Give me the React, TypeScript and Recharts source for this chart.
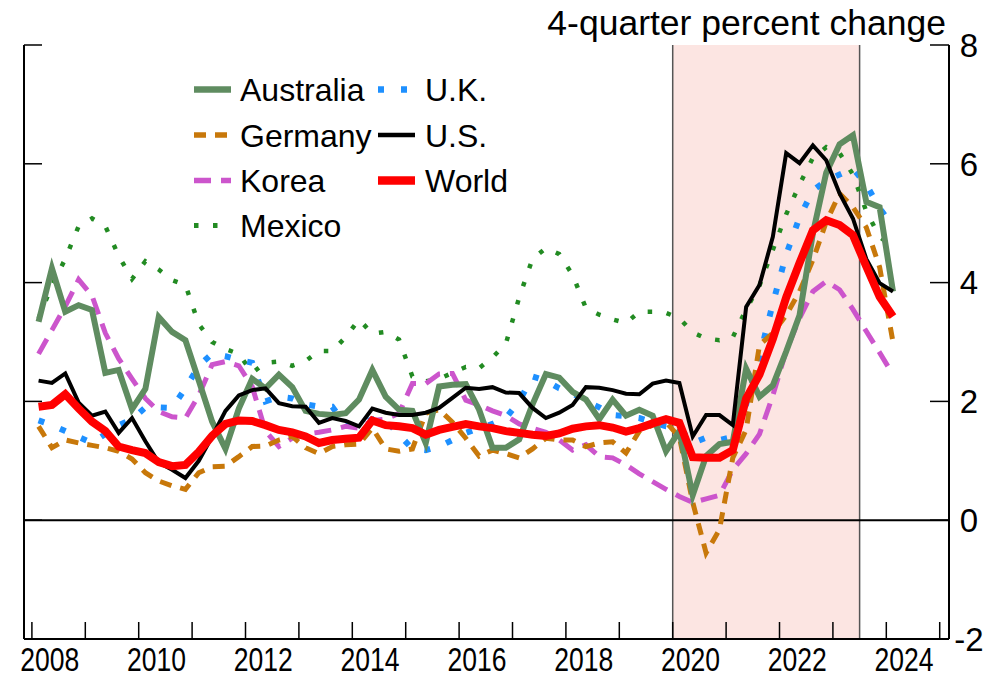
import React from 'react';
import { LineChart, Line, XAxis, YAxis, ReferenceArea, ReferenceLine } from 'recharts';

// ---------- data (quarterly, 2008Q1 .. 2024Q1) ----------
const startYear = 2008;
const quarterLabels: string[] = [];
for (let i = 0; i < 65; i++) {
  quarterLabels.push(`${startYear + Math.floor(i / 4)}Q${(i % 4) + 1}`);
}

const australia = [3.34,4.24,3.51,3.62,3.54,2.48,2.53,1.87,2.21,3.42,3.17,3.03,2.35,1.66,1.20,1.88,2.38,2.22,2.45,2.24,1.84,1.79,1.77,1.80,2.03,2.53,2.08,1.86,1.84,1.30,2.25,2.28,2.29,1.86,1.22,1.22,1.36,1.95,2.46,2.40,2.16,2.03,1.70,2.03,1.76,1.86,1.76,1.16,1.50,0.42,1.08,1.28,1.32,2.55,2.08,2.27,2.84,3.45,4.83,5.85,6.33,6.48,5.36,5.27,3.85];
const germany = [1.58,1.22,1.35,1.30,1.26,1.22,1.16,1.03,0.80,0.66,0.58,0.52,0.80,0.90,0.91,1.07,1.24,1.25,1.35,1.41,1.22,1.12,1.24,1.27,1.28,1.55,1.20,1.16,1.20,1.80,1.86,1.65,1.38,1.08,1.18,1.12,1.05,1.20,1.38,1.35,1.35,1.24,1.30,1.32,1.13,1.50,1.60,1.65,1.40,0.30,-0.55,-0.16,1.05,1.52,2.95,3.15,3.45,3.85,4.38,5.02,5.50,5.27,4.93,4.26,3.00];
const korea = [2.80,3.20,3.60,4.05,3.78,3.15,2.72,2.38,2.05,1.83,1.74,1.72,2.10,2.62,2.67,2.60,2.25,1.50,1.24,1.38,1.45,1.48,1.52,1.58,1.55,1.68,1.70,1.80,2.30,2.30,2.46,2.47,2.02,1.94,1.84,1.76,1.62,1.55,1.48,1.35,1.18,1.27,1.07,1.05,0.93,0.78,0.65,0.52,0.40,0.30,0.36,0.42,0.85,1.12,1.45,2.10,2.85,3.40,3.85,4.02,3.88,3.55,3.18,2.82,2.45];
const mexico = [3.40,3.95,4.40,4.95,5.08,4.95,4.45,4.06,4.36,4.22,4.04,3.96,3.30,3.00,2.88,2.80,2.48,2.65,2.67,2.60,2.68,2.85,2.85,3.08,3.38,3.14,3.17,3.04,2.42,2.34,2.38,2.48,2.58,2.56,2.74,2.97,3.75,4.40,4.58,4.48,4.13,3.57,3.46,3.38,3.32,3.51,3.51,3.49,3.40,3.16,3.06,3.03,3.08,3.55,3.95,4.55,5.15,5.65,6.10,6.28,6.18,5.82,5.20,4.77,4.60];
const uk = [1.68,1.60,1.50,1.40,1.30,1.45,1.60,1.70,1.90,1.90,1.89,2.22,2.60,2.80,2.76,2.70,2.65,2.00,2.08,2.05,1.95,1.91,1.91,1.60,1.62,1.70,1.68,1.44,1.20,1.18,1.24,1.35,1.47,1.55,1.62,1.72,2.00,2.42,2.35,2.22,2.14,2.00,1.90,1.77,1.75,1.72,1.65,1.58,1.55,1.30,1.39,1.35,1.40,1.95,2.75,3.65,4.47,5.10,5.55,5.72,5.82,5.92,5.65,5.25,4.95];
const us = [2.35,2.31,2.47,1.98,1.76,1.83,1.47,1.72,1.33,0.97,0.85,0.71,1.00,1.41,1.84,2.10,2.19,2.22,1.97,1.92,1.91,1.64,1.72,1.67,1.58,1.88,1.81,1.77,1.77,1.81,1.89,2.06,2.23,2.21,2.24,2.15,2.14,1.89,1.72,1.81,1.94,2.24,2.23,2.19,2.13,2.12,2.30,2.35,2.31,1.41,1.77,1.77,1.60,3.59,3.96,4.77,6.18,6.01,6.31,6.06,5.50,5.08,4.40,3.99,3.85];
const world = [1.91,1.94,2.12,1.88,1.66,1.50,1.24,1.18,1.13,0.98,0.91,0.93,1.15,1.42,1.62,1.68,1.67,1.60,1.52,1.48,1.41,1.30,1.35,1.37,1.39,1.68,1.60,1.58,1.55,1.44,1.52,1.57,1.62,1.58,1.55,1.50,1.47,1.44,1.42,1.46,1.54,1.58,1.60,1.56,1.49,1.55,1.63,1.70,1.64,1.06,1.05,1.05,1.18,2.05,2.45,3.05,3.75,4.33,4.88,5.05,4.97,4.80,4.27,3.76,3.43];

const yearTicks = [2008,2009,2010,2011,2012,2013,2014,2015,2016,2017,2018,2019,2020,2021,2022,2023,2024,2025];
const labelYears = [2008,2010,2012,2014,2016,2018,2020,2022,2024];
const labelOffset = 1 / 3; // labels sit a third of a year after the year tick
const yTicks = [-2,0,2,4,6,8];
const shadeStart = 2020;
const shadeEnd = 2023.5;
const title = '4-quarter percent change';

const X_MIN = 2007.852;
const X_MAX = 2025.174;

type Series = {
  key: string; name: string; values: number[]; color: string; width: number; dash?: string;
};

const series: Series[] = [
  { key: 'mexico', name: 'Mexico', values: mexico, color: '#228b22', width: 4.5, dash: '4.5 14.5' },
  { key: 'uk', name: 'U.K.', values: uk, color: '#1e90ff', width: 6, dash: '6 17' },
  { key: 'korea', name: 'Korea', values: korea, color: '#cc55cc', width: 5, dash: '17 10' },
  { key: 'germany', name: 'Germany', values: germany, color: '#c8780a', width: 5, dash: '12 9' },
  { key: 'australia', name: 'Australia', values: australia, color: '#5f8c60', width: 6 },
  { key: 'us', name: 'U.S.', values: us, color: '#000000', width: 4 },
  { key: 'world', name: 'World', values: world, color: '#ff0000', width: 8 },
];

const legendCol1 = ['australia', 'germany', 'korea', 'mexico'];
const legendCol2 = ['uk', 'us', 'world'];

const data = quarterLabels.map((q, i) => {
  const yr = parseInt(q.slice(0, 4), 10);
  const qn = parseInt(q.slice(5), 10);
  const row: Record<string, number | string> = { q, x: yr + (qn - 0.5) / 4 };
  series.forEach((s) => { row[s.key] = s.values[i]; });
  return row;
});

const FONT = '"Liberation Sans", Arial, Helvetica, sans-serif';

const NoLabel = () => <g />;

const XLabel = (props: any) => {
  const { x, y, payload } = props;
  return (
    <text x={x} y={y} dy="0.71em" textAnchor="middle" fontSize={33} fontFamily={FONT} fill="#000"
      textLength={59} lengthAdjust="spacingAndGlyphs">
      {Math.round(payload.value - labelOffset)}
    </text>
  );
};

const YLabel = (props: any) => {
  const { x, y, payload } = props;
  return (
    <text x={x} y={y} dy="0.355em" textAnchor="middle" fontSize={33} fontFamily={FONT} fill="#000">
      {payload.value}
    </text>
  );
};

const Overlay = () => {
  const rowBase = [101, 146.5, 192, 237];
  const byKey = (k: string) => series.find((s) => s.key === k)!;
  const item = (k: string, i: number, sx: number, tx: number) => {
    const s = byKey(k);
    const yb = rowBase[i];
    return (
      <g key={k}>
        <line x1={sx} x2={sx + 37} y1={yb - 11.5} y2={yb - 11.5} stroke={s.color}
          strokeWidth={s.width + 0.5} strokeDasharray={s.dash} />
        <text x={tx} y={yb} fontSize={32} fontFamily={FONT} fill="#000">{s.name}</text>
      </g>
    );
  };
  return (
    <svg width={1002} height={678} style={{ position: 'absolute', left: 0, top: 0, pointerEvents: 'none' }}>
      <text x={946} y={35} textAnchor="end" fontSize={35.5} fontFamily={FONT} fill="#000">{title}</text>
      {legendCol1.map((k, i) => item(k, i, 194, 240))}
      {legendCol2.map((k, i) => item(k, i, 378, 425))}
    </svg>
  );
};

export default function App() {
  return (
    <div style={{ position: 'absolute', left: 0, top: 0, width: 1002, height: 678, background: '#fff' }}>
      <LineChart width={1002} height={678} data={data} margin={{ top: 45, right: 0, bottom: 0, left: 23 }}>
        <XAxis xAxisId="a" dataKey="x" type="number" domain={[X_MIN, X_MAX]} allowDataOverflow
          ticks={yearTicks} interval={0} tick={<NoLabel />} tickSize={-17} height={1}
          stroke="#000" axisLine={{ stroke: '#000', strokeWidth: 2 }} tickLine={{ stroke: '#000', strokeWidth: 1.5 }} />
        <XAxis xAxisId="b" dataKey="x" type="number" domain={[X_MIN, X_MAX]} allowDataOverflow
          ticks={labelYears.map((y) => y + labelOffset)} interval={0} tick={<XLabel />} tickLine={false}
          axisLine={false} tickSize={0} tickMargin={8} height={38} />
        <YAxis yAxisId="l" orientation="left" type="number" width={1} domain={[-2, 8]} allowDataOverflow
          ticks={yTicks} interval={0} tick={<NoLabel />} tickSize={-18} stroke="#000"
          axisLine={{ stroke: '#000', strokeWidth: 2 }} tickLine={{ stroke: '#000', strokeWidth: 1.5 }} />
        <YAxis yAxisId="r" orientation="right" type="number" width={53} domain={[-2, 8]} allowDataOverflow
          ticks={yTicks} interval={0} tick={<YLabel />} tickSize={-19} tickMargin={39} stroke="#000"
          axisLine={{ stroke: '#000', strokeWidth: 2 }} tickLine={{ stroke: '#000', strokeWidth: 1.5 }} />
        <ReferenceArea xAxisId="a" yAxisId="r" x1={shadeStart} x2={shadeEnd} y1={-2} y2={8}
          fill="#fce5e2" fillOpacity={1} stroke="none" />
        <ReferenceLine xAxisId="a" yAxisId="r" x={shadeStart} stroke="#555" strokeWidth={1.5} />
        <ReferenceLine xAxisId="a" yAxisId="r" x={shadeEnd} stroke="#555" strokeWidth={1.5} />
        <ReferenceLine xAxisId="a" yAxisId="r" y={0} stroke="#000" strokeWidth={2} />
        {series.map((s) => (
          <Line key={s.key} xAxisId="a" yAxisId="r" type="linear" dataKey={s.key} name={s.name}
            stroke={s.color} strokeWidth={s.width} strokeDasharray={s.dash} dot={false}
            activeDot={false} isAnimationActive={false} strokeLinecap="butt" strokeLinejoin="miter" />
        ))}
      </LineChart>
      <Overlay />
    </div>
  );
}
